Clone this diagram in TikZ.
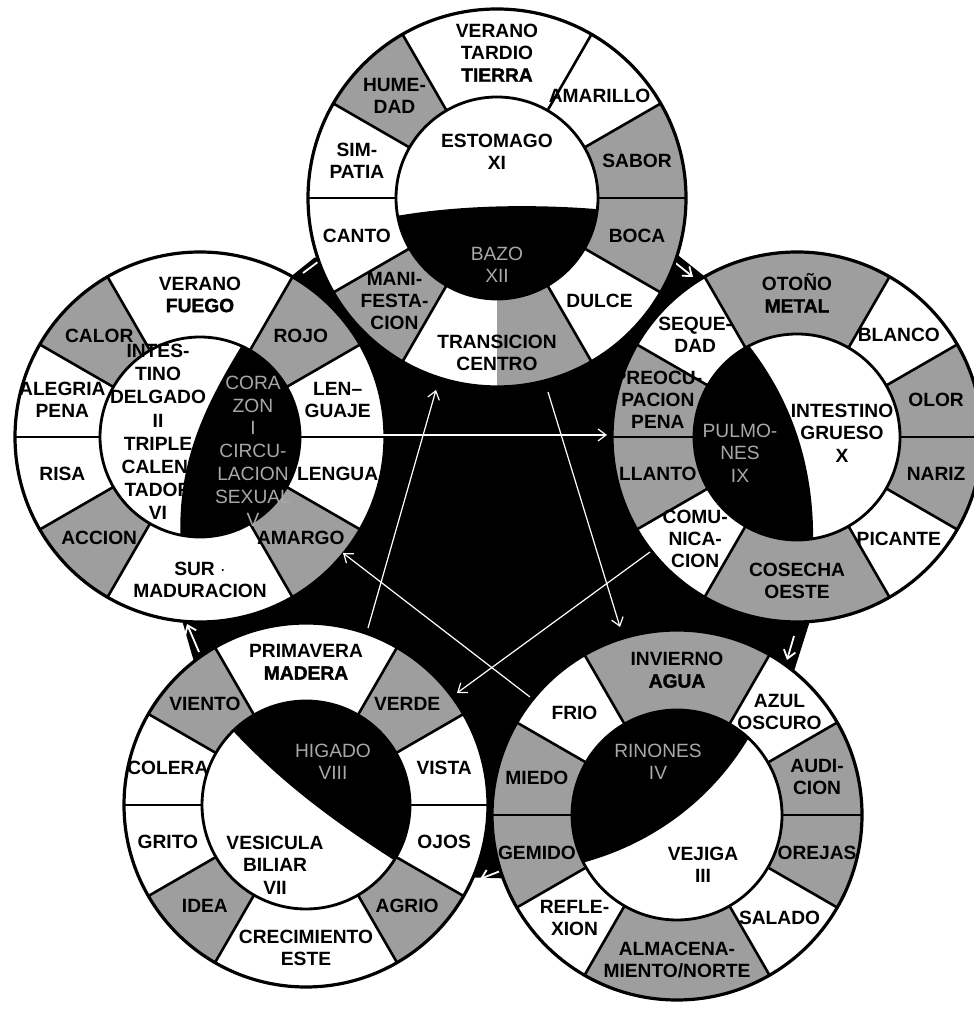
\documentclass[tikz,border=0pt]{standalone}
\usepackage{fontspec}
\setmainfont{Liberation Sans}
\newfontfamily\heavyfont{Liberation Sans Bold}[FakeBold=1.6]
\usetikzlibrary{arrows.meta}
\definecolor{halftone}{gray}{0.62}
\definecolor{ghost}{gray}{0.66}
\tikzset{
  lbl/.style={font=\fontsize{9.6}{11}\selectfont\bfseries, align=center, inner sep=0pt, text=black},
  organ/.style={font=\fontsize{9.6}{11.2}\selectfont\bfseries, align=center, inner sep=0pt},
  ghosttext/.style={font=\fontsize{9.6}{11.2}\selectfont, text=ghost, align=center, inner sep=0pt},
  ringline/.style={line width=1.3pt, draw=black},
  outerline/.style={line width=1.6pt, draw=black},
  innerline/.style={line width=1.4pt, draw=black},
  star/.style={draw=white, line width=0.6pt, -{Straight Barb[length=4pt,width=6pt]}},
  cyc/.style={draw=white, line width=0.9pt, -{Straight Barb[length=4pt,width=6pt]}},
}
% sectors: centre angle / half width / fill / text
\newcommand\wheel[6]{%
\begin{scope}[shift={#2}]
 \pgfmathsetmacro\rmid{(#3+#4)/2}
 \foreach \ang/\hw/\col/\txt in {#5}{
   \fill[\col] (\ang-\hw:#3) arc[start angle=\ang-\hw,end angle=\ang+\hw,radius=#3] -- (\ang+\hw:#4) arc[start angle=\ang+\hw,end angle=\ang-\hw,radius=#4] -- cycle;}
 #6
 \foreach \a in {0,30,60,120,150,180,210,240,300,330}{\draw[ringline] (\a:#4) -- (\a:#3);}
 \draw[outerline] (0,0) circle[radius=#3];
 \fill[white] (0,0) circle[radius=#4];
 \foreach \ang/\hw/\col/\txt [count=\i] in {#5}{\node[lbl] (#1s\i) at (\ang:\rmid) {\txt};}
\end{scope}}
\begin{document}
\begin{tikzpicture}[x=0.5pt,y=0.5pt]
\useasboundingbox (0,0) rectangle (973,1010);
\fill[white] (0,0) rectangle (973,1010);
% wheel centres
\coordinate (T) at (497,812);
\coordinate (L) at (200,573);
\coordinate (R) at (797,573);
\coordinate (BR) at (677,195);
\coordinate (BL) at (306,205);
% black background
\fill[black] (T) -- (R) -- (BR) -- (BL) -- (L) -- cycle;
\draw[black, line width=68pt, line join=round] (T) -- (R) -- (BR) -- (BL) -- (L) -- cycle;
% cycle arrows in the band
\coordinate (c1a) at (303,737); \coordinate (c1b) at (326,754);
\coordinate (c2a) at (668,753); \coordinate (c2b) at (693,733);
\coordinate (c3a) at (794,374); \coordinate (c3b) at (787,350);
\coordinate (c4a) at (503,140); \coordinate (c4b) at (480,131);
\coordinate (c5a) at (199,358); \coordinate (c5b) at (187,386);
\foreach \k in {1,...,5}{\draw[cyc] (c\k a) -- (c\k b);}

% ---- wheels ----
\wheel{L}{(200,573)}{185}{100}{90/30/white/{VERANO\\{\heavyfont\mdseries FUEGO}}, 45/15/halftone/ROJO, 15/15/white/{LEN--\\GUAJE}, -15/15/white/LENGUA, -45/15/halftone/AMARGO, -90/30/white/{SUR $\cdot$\\MADURACION}, -135/15/halftone/ACCION, -165/15/white/RISA, 165/15/white/{ALEGRIA\\PENA}, 135/15/halftone/CALOR}{}

\wheel{T}{(497,812)}{189}{101}{90/30/white/{VERANO\\TARDIO\\{\heavyfont\mdseries TIERRA}}, 45/15/white/AMARILLO, 15/15/halftone/SABOR, -15/15/halftone/BOCA, -45/15/white/DULCE, -90/30/white/{}, -135/15/halftone/{MANI-\\FESTA-\\CION}, -165/15/white/CANTO, 165/15/white/{SIM-\\PATIA}, 135/15/halftone/{HUME-\\DAD}}{\fill[halftone] (270:189) arc[start angle=270,end angle=300,radius=189] -- (300:101) arc[start angle=300,end angle=270,radius=101] -- cycle;}
\node[lbl] (Tcentro) at (497,657) {TRANSICION\\CENTRO};

\wheel{R}{(797,573)}{185}{103}{90/30/halftone/{OTOÑO\\{\heavyfont\mdseries METAL}}, 45/15/white/BLANCO, 15/15/halftone/OLOR, -15/15/halftone/NARIZ, -45/15/white/PICANTE, -90/30/halftone/{COSECHA\\OESTE}, -135/15/white/{COMU-\\NICA-\\CION}, -165/15/halftone/LLANTO, 165/15/halftone/{PREOCU-\\PACION\\PENA}, 135/15/white/{SEQUE-\\DAD}}{}

\wheel{BR}{(677,195)}{185}{105}{90/30/halftone/{INVIERNO\\{\heavyfont\mdseries AGUA}}, 45/15/white/{AZUL\\OSCURO}, 15/15/halftone/{AUDI-\\CION}, -15/15/halftone/OREJAS, -45/15/white/SALADO, -90/30/halftone/{ALMACENA-\\MIENTO/NORTE}, -135/15/white/{REFLE-\\XION}, -165/15/halftone/GEMIDO, 165/15/halftone/MIEDO, 135/15/white/FRIO}{}

\wheel{BL}{(306,205)}{182}{104}{90/30/white/{PRIMAVERA\\{\heavyfont\mdseries MADERA}}, 45/15/halftone/VERDE, 15/15/white/VISTA, -15/15/white/OJOS, -45/15/halftone/AGRIO, -90/30/white/{CRECIMIENTO\\ESTE}, -135/15/halftone/IDEA, -165/15/white/GRITO, 165/15/white/COLERA, 135/15/halftone/VIENTO}{}

% ---- inner organ discs ----
\begin{scope}[shift={(497,812)}]
 \begin{scope}\clip (0,0) circle[radius=101];
  \fill[black] (-130,-24) .. controls (-50,-5) and (50,-5) .. (130,-14) -- (130,-130) -- (-130,-130) -- cycle;
 \end{scope}
 \draw[innerline] (0,0) circle[radius=101];
 \node[organ] (Tw) at (0,46) {ESTOMAGO\\XI};
 \node[ghosttext] (Tb) at (0,-67) {BAZO\\XII};
\end{scope}

\begin{scope}[shift={(200,573)}]
 \begin{scope}\clip (0,0) circle[radius=100];
  \fill[black] (50,105) .. controls (10,40) and (-25,-20) .. (-19,-110) -- (150,-110) -- (150,110) -- (50,110) -- cycle;
 \end{scope}
 \draw[innerline] (0,0) circle[radius=100];
 \node[organ, font=\fontsize{9.6}{11.6}\selectfont\bfseries] (Lw) at (-42,5) {INTES-\\TINO\\DELGADO\\II\\TRIPLE\\CALEN-\\TADOR\\VI};
 \node[ghosttext, font=\fontsize{9.6}{11.4}\selectfont] (Lb) at (53,-14) {CORA\\ZON\\I\\CIRCU-\\LACION\\SEXUAL\\V};
\end{scope}

\begin{scope}[shift={(797,573)}]
 \begin{scope}\clip (0,0) circle[radius=103];
  \fill[black] (-55,100) .. controls (-5,40) and (18,-30) .. (16,-110) -- (-150,-110) -- (-150,110) -- (-55,110) -- cycle;
 \end{scope}
 \draw[innerline] (0,0) circle[radius=103];
 \node[organ] (Rw) at (45,4) {INTESTINO\\GRUESO\\X};
 \node[ghosttext] (Rb) at (-57,-16) {PULMO-\\NES\\IX};
\end{scope}

\begin{scope}[shift={(677,195)}]
 \begin{scope}\clip (0,0) circle[radius=105];
  \fill[black] (80,92) .. controls (40,15) and (-30,-35) .. (-112,-52) -- (-150,-52) -- (-150,150) -- (80,150) -- cycle;
 \end{scope}
 \draw[innerline] (0,0) circle[radius=105];
 \node[organ] (BRw) at (26,-50) {VEJIGA\\III};
 \node[ghosttext] (BRb) at (-19,53) {RINONES\\IV};
\end{scope}

\begin{scope}[shift={(306,205)}]
 \begin{scope}\clip (0,0) circle[radius=104];
  \fill[black] (-82,84) .. controls (-25,20) and (40,-25) .. (102,-64) -- (150,-64) -- (150,150) -- (-82,150) -- cycle;
 \end{scope}
 \draw[innerline] (0,0) circle[radius=104];
 \node[organ] (BLw) at (-31,-60) {VESICULA\\BILIAR\\VII};
 \node[ghosttext] (BLb) at (27,43) {HIGADO\\VIII};
\end{scope}

% ---- star (control) arrows ----
\coordinate (s1a) at (378,575); \coordinate (s1b) at (607,575);
\coordinate (s2a) at (548,618); \coordinate (s2b) at (620,383);
\coordinate (s3a) at (650,458); \coordinate (s3b) at (457,317);
\coordinate (s4a) at (368,382); \coordinate (s4b) at (436,620);
\coordinate (s5a) at (530,313); \coordinate (s5b) at (343,457);
\foreach \k in {1,...,5}{\draw[star] (s\k a) -- (s\k b);}
\end{tikzpicture}
\end{document}
